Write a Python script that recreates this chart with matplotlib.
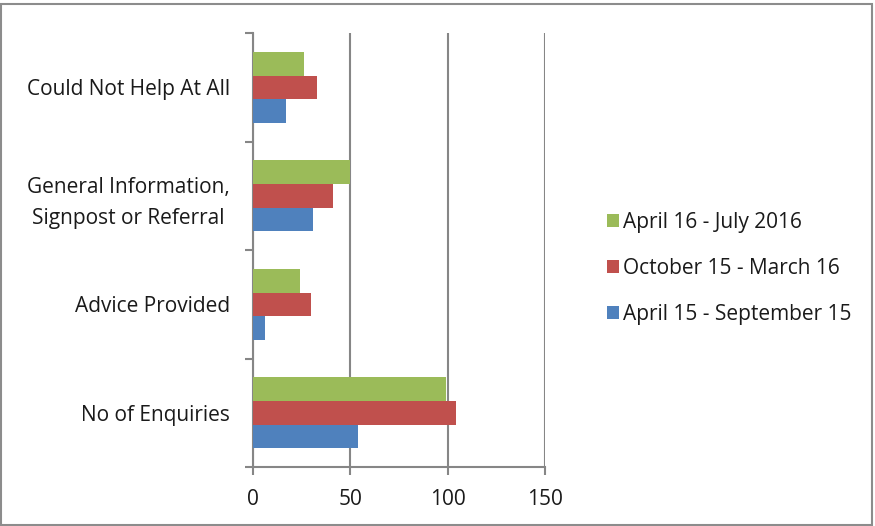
import matplotlib.pyplot as plt
import numpy as np
from matplotlib.patches import Rectangle

# categories listed bottom to top
categories = ['No of Enquiries', 'Advice Provided',
              'General Information,\nSignpost or Referral', 'Could Not Help At All']
apr15_sep15 = [54, 6, 31, 17]
oct15_mar16 = [104, 30, 41, 33]
apr16_jul16 = [99, 24, 50, 26]
series_names = ['April 16 - July 2016', 'October 15 - March 16', 'April 15 - September 15']

plt.rcParams['font.family'] = ['Open Sans', 'DejaVu Sans']
fs = 15

fig = plt.figure(figsize=(8.75, 5.26), dpi=100)
ax = fig.add_axes([0.289, 0.112, 0.334, 0.825])

y = np.arange(len(categories))
h = 0.218
ax.barh(y + h, apr16_jul16, height=h, color='#9BBB59', label=series_names[0], zorder=3)
ax.barh(y, oct15_mar16, height=h, color='#C0504D', label=series_names[1], zorder=3)
ax.barh(y - h, apr15_sep15, height=h, color='#4F81BD', label=series_names[2], zorder=3)

grid_col = '#868686'
ax.set_xlim(0, 150)
ax.set_ylim(-0.5, len(categories) - 0.5)
ax.set_xticks([0, 50, 100, 150])
ax.xaxis.grid(True, color=grid_col, linewidth=1.5, zorder=0)
ax.set_yticks(y)
ax.set_yticklabels(categories, fontsize=fs, linespacing=1.6, ha='right',
                   multialignment='center', color='#1a1a1a')
ax.set_yticks(np.arange(-0.5, len(categories)), minor=True)
ax.tick_params(axis='y', which='major', length=0, pad=16.5)
ax.tick_params(axis='y', which='minor', length=6, width=1.5, color=grid_col)
ax.tick_params(axis='x', length=6, width=1.5, color=grid_col, labelsize=fs, pad=10,
               labelcolor='#1a1a1a')

for s in ['top', 'right']:
    ax.spines[s].set_visible(False)
for s in ['left', 'bottom']:
    ax.spines[s].set_color(grid_col)
    ax.spines[s].set_linewidth(1.5)

leg = fig.legend(loc='center left', bbox_to_anchor=(0.672, 0.49), frameon=False,
                 fontsize=fs, handlelength=0.6, handleheight=0.6,
                 handletextpad=0.2, labelspacing=1.2)
for t in leg.get_texts():
    t.set_color('#1a1a1a')

fig.patches.append(Rectangle((0.001, 0.002), 0.996, 0.99, transform=fig.transFigure,
                             fill=False, edgecolor='#8c8c8c', linewidth=1.5))

plt.savefig('out.png', dpi=100)
